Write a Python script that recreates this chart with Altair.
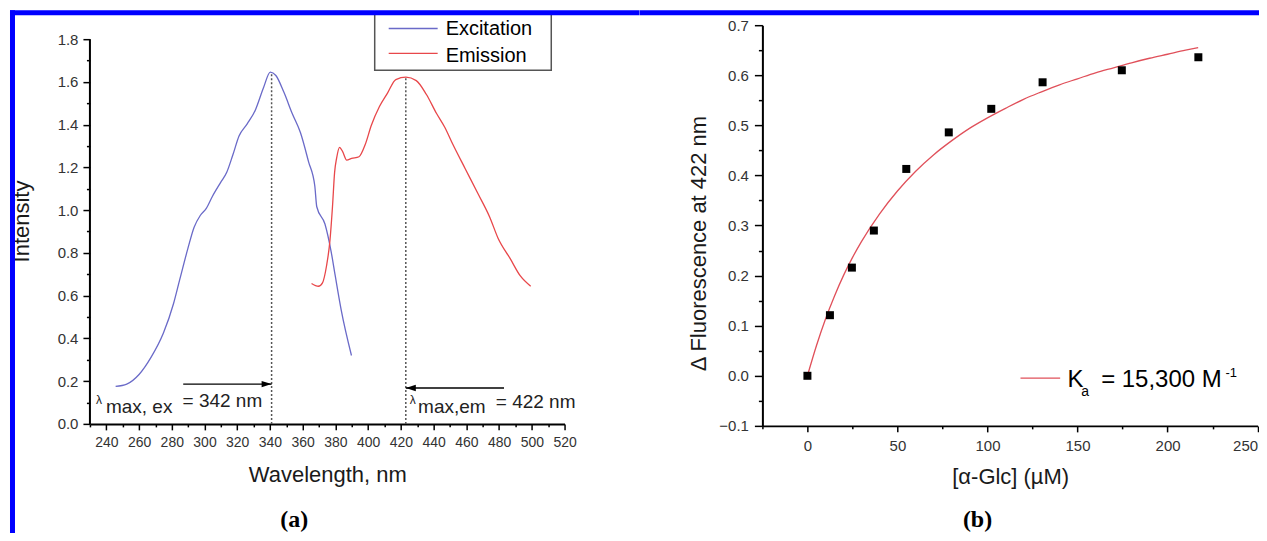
import altair as alt
import pandas as pd

FONT = "Liberation Sans"
SERIF = "Liberation Serif"

# ---------------- panel (a) data ----------------
SERIES = ["Excitation", "Emission"]
SERIES_COLORS = ["#6a6ac8", "#e8474a"]

EX_WL = [245.7, 252.5, 260.0, 267.4, 274.9, 281.1, 284.9, 289.9, 293.6, 297.4, 301.1,
         304.8, 309.8, 313.6, 317.3, 321.1, 326.1, 331.1, 336.1, 340.2, 343.6, 348.6,
         353.6, 358.6, 363.6, 367.4, 368.6, 373.6, 377.4, 379.9, 383.6, 389.8]
EX_I = [0.175, 0.186, 0.231, 0.312, 0.425, 0.563, 0.676, 0.822, 0.919, 0.975, 1.008,
        1.064, 1.129, 1.177, 1.258, 1.347, 1.404, 1.469, 1.574, 1.646, 1.630, 1.550,
        1.452, 1.363, 1.226, 1.113, 1.016, 0.935, 0.805, 0.692, 0.530, 0.320]

EM_WL = [365.4, 369.6, 372.1, 374.6, 376.6, 378.2, 379.5, 380.7, 382.5, 384.4, 386.9,
         389.9, 394.4, 398.2, 401.9, 406.9, 411.9, 416.9, 423.1, 429.4, 435.6, 441.8,
         446.8, 451.8, 459.3, 466.9, 474.3, 479.3, 486.8, 493.0, 499.3]
EM_I = [0.657, 0.644, 0.660, 0.741, 0.854, 1.016, 1.177, 1.242, 1.294, 1.274, 1.234,
        1.242, 1.250, 1.307, 1.396, 1.485, 1.549, 1.611, 1.622, 1.606, 1.541, 1.452,
        1.388, 1.307, 1.194, 1.080, 0.967, 0.870, 0.773, 0.692, 0.644]

PEAK_WL = [341, 423]
PEAK_I = [1.645, 1.622]
ARROW_FROM = [287, 483]
ARROW_TO = [341, 423]
ARROW_Y = [0.186, 0.168]

LAMBDA_X = [233.7, 425.4]
LAMBDA_Y = [0.094, 0.094]
SUB_TEXT = ["max, ex", "max,em"]
SUB_X = [239.8, 430.5]
SUB_Y = [0.053, 0.050]
VAL_TEXT = ["= 342 nm", "= 422 nm"]
VAL_X = [286.6, 478.0]
VAL_Y = [0.078, 0.076]

WL_TICKS = [230, 240, 250, 260, 270, 280, 290, 300, 310, 320, 330, 340, 350, 360, 370,
            380, 390, 400, 410, 420, 430, 440, 450, 460, 470, 480, 490, 500, 510, 520]
INT_TICKS = [0.0, 0.1, 0.2, 0.3, 0.4, 0.5, 0.6, 0.7, 0.8, 0.9, 1.0, 1.1, 1.2, 1.3,
             1.4, 1.5, 1.6, 1.7, 1.8]
INT_AXIS_END = 1.8

# ---------------- panel (b) data ----------------
GLC_UM = [0, 12.5, 24.7, 36.9, 54.9, 78.5, 102.1, 130.6, 174.6, 217.1]
DFLUOR = [0.0, 0.121, 0.216, 0.290, 0.413, 0.486, 0.533, 0.586, 0.610, 0.636]
FIT_X = [0, 5, 10, 15, 20, 25, 30, 40, 50, 60, 70, 80, 90, 100, 110, 120, 130, 140,
         150, 160, 170, 180, 190, 200, 210, 217]
FIT_Y = [0.0, 0.060, 0.113, 0.159, 0.200, 0.236, 0.268, 0.323, 0.369, 0.408, 0.441,
         0.469, 0.494, 0.515, 0.534, 0.552, 0.567, 0.581, 0.593, 0.605, 0.615, 0.625,
         0.634, 0.642, 0.650, 0.655]
FIT_COLOR = "#e0505a"
GLC_TICKS = [-25, 0, 25, 50, 75, 100, 125, 150, 175, 200, 225, 250]
DF_TICKS = [-0.1, -0.05, 0.0, 0.05, 0.1, 0.15, 0.2, 0.25, 0.3, 0.35, 0.4, 0.45, 0.5,
            0.55, 0.6, 0.65, 0.7]

FRAME_BLUE = "#0000ff"

# ---------------- tables ----------------
spec = pd.DataFrame({
    "x": EX_WL + EM_WL,
    "y": EX_I + EM_I,
    "series": [SERIES[0]] * len(EX_WL) + [SERIES[1]] * len(EM_WL),
    "order": list(range(len(EX_WL))) + list(range(len(EM_WL))),
})
peaks = pd.DataFrame({"x": PEAK_WL, "y": [0, 0], "y2": PEAK_I})
arrows = pd.DataFrame({"x": ARROW_FROM, "x2": ARROW_TO, "y": ARROW_Y})
head_r = pd.DataFrame({"x": ARROW_TO[:1], "y": ARROW_Y[:1]})
head_l = pd.DataFrame({"x": ARROW_TO[1:], "y": ARROW_Y[1:]})
lam = pd.DataFrame({"x": LAMBDA_X, "y": LAMBDA_Y, "t": ["λ", "λ"]})
subs = pd.DataFrame({"x": SUB_X + VAL_X, "y": SUB_Y + VAL_Y, "t": SUB_TEXT + VAL_TEXT})
yaxis_line = pd.DataFrame({"y": [0.0], "y2": [INT_AXIS_END]})
pts = pd.DataFrame({"x": GLC_UM, "y": DFLUOR})
fit = pd.DataFrame({"x": FIT_X, "y": FIT_Y})
one = pd.DataFrame({"k": [0]})


def tick_size(test_minor, minor, major):
    return {"condition": {"test": test_minor, "value": minor}, "value": major}


def axis_style(**kw):
    d = dict(
        grid=False, labelFont=FONT, labelColor="#333333", titleFont=FONT,
        titleFontWeight="normal", titleFontSize=22, titleColor="#1a1a1a",
        domainColor="black", domainWidth=2, tickColor="black", tickWidth=1.5,
        labelOverlap=False, labelBound=False, labelFlush=False,
    )
    d.update(kw)
    return alt.Axis(**d)


# ---------------- panel (a) ----------------
H_A = 399  # plot area reaches 14 px above the 1.8 end of the axis
xa = alt.X("x:Q", scale=alt.Scale(domain=[230, 520], nice=False, zero=False),
           axis=axis_style(values=WL_TICKS, title="Wavelength, nm",
                           labelExpr="datum.value % 20 === 0 ? datum.label : ''",
                           tickSize=tick_size("datum.value % 20 !== 0", 3, 6),
                           labelFontSize=14, labelPadding=6,
                           titleX=237.5, titleY=58, titleBaseline="alphabetic"))
ya = alt.Y("y:Q", scale=alt.Scale(domain=[0, 1.8654], nice=False, zero=False),
           axis=axis_style(values=INT_TICKS, title="Intensity", domain=False,
                           labelExpr="round(datum.value*10) % 2 === 0 ? format(datum.value, '.1f') : ''",
                           tickSize=tick_size("round(datum.value*10) % 2 !== 0", 3.5, 7),
                           labelFontSize=15, labelPadding=5,
                           titleX=-61, titleY=196, titleBaseline="alphabetic"))

base_a = alt.Chart(spec)
lines_a = base_a.mark_line(strokeWidth=1.3, interpolate="monotone").encode(
    x=xa, y=ya,
    color=alt.Color("series:N", scale=alt.Scale(domain=SERIES, range=SERIES_COLORS), legend=None),
    order="order:Q",
)
y_domain_line = alt.Chart(yaxis_line).mark_rule(color="black", strokeWidth=2).encode(
    x=alt.value(0), y=ya, y2="y2:Q")
dotted = alt.Chart(peaks).mark_rule(color="#555555", strokeDash=[2, 2], strokeWidth=1.5).encode(
    x=xa, y=ya, y2="y2:Q")
arrow_lines = alt.Chart(arrows).mark_rule(color="black", strokeWidth=1.5).encode(
    x=xa, x2="x2:Q", y=ya)
head_right = alt.Chart(head_r).mark_point(
    shape="M0,0L-1,-0.32L-1,0.32Z", size=400, filled=True, color="black", opacity=1
).encode(x=xa, y=ya)
head_left = alt.Chart(head_l).mark_point(
    shape="M0,0L1,-0.32L1,0.32Z", size=400, filled=True, color="black", opacity=1
).encode(x=xa, y=ya)
lam_text = alt.Chart(lam).mark_text(
    align="left", baseline="alphabetic", font=FONT, fontSize=12, color="#222222"
).encode(x=xa, y=ya, text="t:N")
sub_text = alt.Chart(subs).mark_text(
    align="left", baseline="alphabetic", font=FONT, fontSize=19, color="#222222"
).encode(x=xa, y=ya, text="t:N")

leg_box = alt.Chart(one).mark_rect(fill="white", stroke="#555555", strokeWidth=1.5).encode(
    x=alt.value(285), x2=alt.value(461.7), y=alt.value(-12), y2=alt.value(45))
leg_l1 = alt.Chart(one).mark_rule(color=SERIES_COLORS[0], strokeWidth=1.3).encode(
    x=alt.value(299), x2=alt.value(348), y=alt.value(3.3))
leg_l2 = alt.Chart(one).mark_rule(color=SERIES_COLORS[1], strokeWidth=1.3).encode(
    x=alt.value(299), x2=alt.value(348), y=alt.value(28.3))
leg_t1 = alt.Chart(one).mark_text(text=SERIES[0], align="left", baseline="alphabetic",
                                  font=FONT, fontSize=20, color="black").encode(
    x=alt.value(356), y=alt.value(10))
leg_t2 = alt.Chart(one).mark_text(text=SERIES[1], align="left", baseline="alphabetic",
                                  font=FONT, fontSize=20, color="black").encode(
    x=alt.value(356), y=alt.value(37))
label_a = alt.Chart(one).mark_text(text="(a)", align="center", baseline="alphabetic",
                                   font=SERIF, fontWeight="bold", fontSize=24, color="black").encode(
    x=alt.value(204.5), y=alt.value(502))
frame_a = [
    alt.Chart(one).mark_rect(color=FRAME_BLUE).encode(
        x=alt.value(-80), x2=alt.value(-75), y=alt.value(-15), y2=alt.value(535)),
    alt.Chart(one).mark_rect(color=FRAME_BLUE).encode(
        x=alt.value(-80), x2=alt.value(550), y=alt.value(-15), y2=alt.value(-10)),
]

panel_a = alt.layer(
    lines_a, y_domain_line, dotted, arrow_lines, head_right, head_left, lam_text, sub_text,
    leg_box, leg_l1, leg_l2, leg_t1, leg_t2, label_a, *frame_a
).properties(width=475, height=H_A)

# ---------------- panel (b) ----------------
xb = alt.X("x:Q", scale=alt.Scale(domain=[-25, 250], nice=False, zero=False),
           axis=axis_style(values=GLC_TICKS, title="[α-Glc] (µM)",
                           labelExpr="datum.value % 50 === 0 ? datum.label : ''",
                           tickSize=tick_size("datum.value % 50 !== 0", 3, 6),
                           labelFontSize=15, labelPadding=7, labelFlush=True,
                           titleX=248, titleY=58, titleBaseline="alphabetic"))
yb = alt.Y("y:Q", scale=alt.Scale(domain=[-0.1, 0.7], nice=False, zero=False),
           axis=axis_style(values=DF_TICKS, title="Δ Fluorescence at 422 nm",
                           labelExpr="round(datum.value*100) % 10 === 0 ? format(datum.value, '.1f') : ''",
                           tickSize=tick_size("round(datum.value*100) % 10 !== 0", 4, 8),
                           labelFontSize=15, labelPadding=6,
                           titleX=-57, titleY=218, titleBaseline="alphabetic"))

fit_line = alt.Chart(fit).mark_line(color=FIT_COLOR, strokeWidth=1.3, interpolate="monotone").encode(
    x=xb, y=yb)
points = alt.Chart(pts).mark_point(shape="square", filled=True, size=64, color="black",
                                   opacity=1).encode(x=xb, y=yb)
leg_fit = alt.Chart(one).mark_rule(color=FIT_COLOR, strokeWidth=1.3).encode(
    x=alt.value(258.3), x2=alt.value(298), y=alt.value(353.3))
ka_k = alt.Chart(one).mark_text(text="K", align="left", baseline="alphabetic", font=FONT,
                                fontSize=24, color="black").encode(x=alt.value(305.3), y=alt.value(361.7))
ka_sub = alt.Chart(one).mark_text(text="a", align="left", baseline="alphabetic", font=FONT,
                                  fontSize=14, color="black").encode(x=alt.value(319), y=alt.value(371))
ka_val = alt.Chart(one).mark_text(text="= 15,300 M", align="left", baseline="alphabetic", font=FONT,
                                  fontSize=24, color="black").encode(x=alt.value(339), y=alt.value(361.7))
ka_sup = alt.Chart(one).mark_text(text="-1", align="left", baseline="alphabetic", font=FONT,
                                  fontSize=13, color="black").encode(x=alt.value(463.5), y=alt.value(351.7))
label_b = alt.Chart(one).mark_text(text="(b)", align="center", baseline="alphabetic",
                                   font=SERIF, fontWeight="bold", fontSize=24, color="black").encode(
    x=alt.value(215.3), y=alt.value(502))
frame_b = [
    alt.Chart(one).mark_rect(color=FRAME_BLUE).encode(
        x=alt.value(-122.7), x2=alt.value(527.3), y=alt.value(-15), y2=alt.value(-10)),
]

panel_b = alt.layer(
    fit_line, points, leg_fit, ka_k, ka_sub, ka_val, ka_sup, label_b, *frame_b
).properties(width=495.6, height=401)

# The frame runs past the window edge as in the reference; negative right/bottom
# padding crops the canvas to the window so the page never scrolls.
chart = alt.hconcat(panel_a, panel_b, spacing=0, bounds="full").properties(
    padding={"left": 2, "top": 2, "right": -31, "bottom": -27},
    background="white",
).configure_view(stroke=None)

chart.save("out.html", embed_options={"renderer": "svg", "actions": False})
